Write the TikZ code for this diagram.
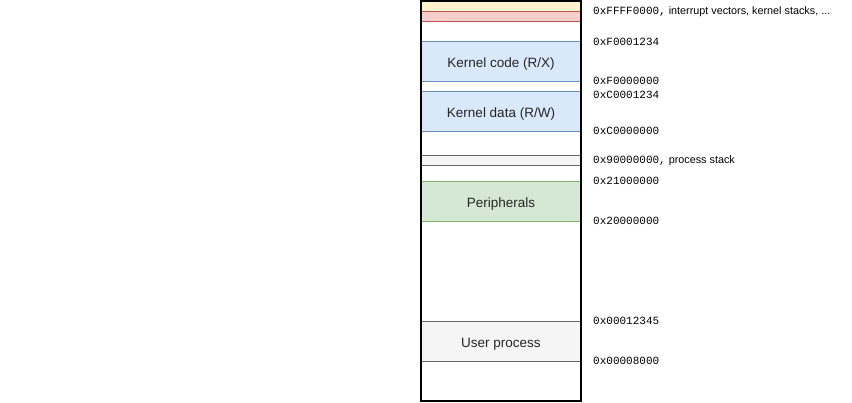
\documentclass[tikz,border=0pt]{standalone}
\usepackage{fontspec}
\setmainfont{Liberation Sans}
\setsansfont{Liberation Sans}
\setmonofont{Liberation Mono}
\usetikzlibrary{positioning}
\definecolor{gelb}{HTML}{FFF2CC}
\definecolor{gelbrand}{HTML}{D6B656}
\definecolor{rot}{HTML}{F8CECC}
\definecolor{rotrand}{HTML}{B85450}
\definecolor{blau}{HTML}{DAE8FC}
\definecolor{blaurand}{HTML}{6C8EBF}
\definecolor{gruen}{HTML}{D5E8D4}
\definecolor{gruenrand}{HTML}{82B366}
\definecolor{grau}{HTML}{F5F5F5}
\definecolor{graurand}{HTML}{666666}
\newcommand{\notiz}{\sffamily\fontsize{10.8}{12}\selectfont}

\begin{document}
\begin{tikzpicture}[x=1pt, y=-1pt,
      bereich/.style={draw, line width=0.8pt, inner sep=0pt,
        minimum width=160pt, minimum height=40pt, text=black!85,
        text height=13pt, text depth=0pt,
        font=\fontsize{13.5}{15}\selectfont},
      band/.style={bereich, minimum height=10pt, text height=0pt},
      adresse/.style={anchor=west, inner sep=0pt, text=black,
        font=\ttfamily\fontsize{11}{12}\selectfont}]
    \useasboundingbox (0,0) rectangle (852,402);
    % Bereiche im Speicher
    \node[band, draw=gelbrand, fill=gelb] (vektoren) at (501,6) {};
    \node[band, draw=rotrand, fill=rot] (stacks) at (501,16) {};
    \node[bereich, draw=blaurand, fill=blau] (kcode) at (501,61) {Kernel code (R/X)};
    \node[bereich, draw=blaurand, fill=blau] (kdaten) at (501,111) {Kernel data (R/W)};
    \node[band, draw=graurand, fill=grau] (pstack) at (501,160) {};
    \node[bereich, draw=gruenrand, fill=gruen] (peri) at (501,201) {Peripherals};
    \node[bereich, draw=graurand, fill=grau] (user) at (501,341) {User process};
    % Rahmen
    \node[draw, line width=1.5pt, minimum width=160pt, minimum height=400pt,
      inner sep=0pt] (speicher) at (501,201) {};
    % Adressen
    \node[adresse] (a1) at (593,12) {0xFFFF0000,{\notiz\ interrupt vectors, kernel stacks, ...}};
    \node[adresse] (a2) at (593,42) {0xF0001234};
    \node[adresse] (a3) at (593,81) {0xF0000000};
    \node[adresse] (a4) at (593,95) {0xC0001234};
    \node[adresse] (a5) at (593,131) {0xC0000000};
    \node[adresse] (a6) at (593,161) {0x90000000,{\notiz\ process stack}};
    \node[adresse] (a7) at (593,181) {0x21000000};
    \node[adresse] (a8) at (593,221) {0x20000000};
    \node[adresse] (a9) at (593,321) {0x00012345};
    \node[adresse] (a10) at (593,361) {0x00008000};
  \end{tikzpicture}
\end{document}
